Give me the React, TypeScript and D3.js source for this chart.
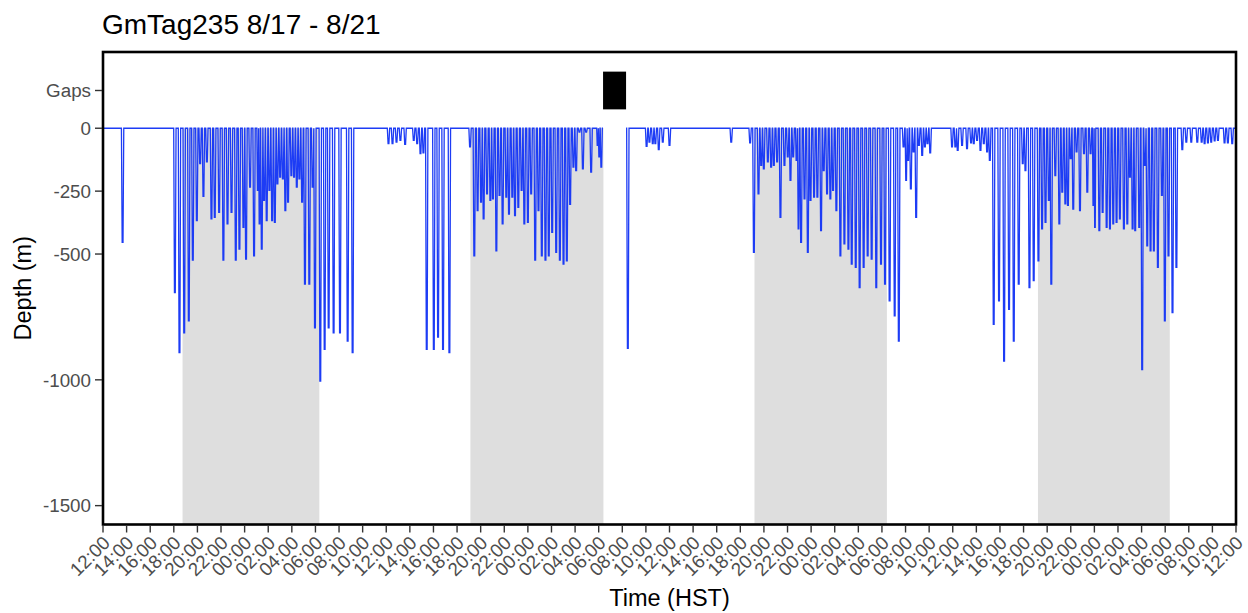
import React, { useEffect, useRef } from 'react';
import * as d3 from 'd3';

const chartTitle = 'GmTag235 8/17 - 8/21';
const xTitle = 'Time (HST)';
const yTitle = 'Depth (m)';

// 8/17 12:00 to 8/21 12:00 (HST)
const startTime = new Date(2023, 7, 17, 12, 0);
const endTime = new Date(2023, 7, 21, 12, 0);

// dive midpoints, hours after 8/17 12:00
const diveHours = [
  1.66, 6.09, 6.48, 6.88, 7.27, 7.61, 7.95, 8.23, 8.51, 8.8, 9.19, 9.47, 9.84, 10.2, 10.55, 10.89,
  11.25, 11.56, 11.9, 12.12, 12.46, 12.8, 13.11, 13.26, 13.45, 13.65, 13.87, 14.1, 14.33, 14.56,
  14.78, 15.01, 15.24, 15.45, 15.68, 15.96, 16.19, 16.42, 16.64, 16.87, 17.11, 17.48, 17.76, 17.96,
  18.41, 18.78, 19.12, 19.54, 20.08, 20.73, 21.15,
  24.19, 24.53, 24.87, 25.2, 25.6, 26.33, 26.62, 26.9, 27.15, 27.43, 28.03, 28.39, 28.81, 29.35,
  31.1, 31.46, 31.74, 32.03, 32.25, 32.54, 32.82, 33.04, 33.33, 33.6, 33.86, 34.17, 34.4, 34.68,
  34.91, 35.19, 35.47, 35.7, 36.0, 36.28, 36.62, 36.9, 37.18, 37.49, 37.77, 38.06, 38.4, 38.71,
  39.02, 39.3, 39.58, 39.86, 40.09, 40.37, 40.66, 40.94, 41.36, 41.9, 42.04, 42.22,
  44.47, 46.06, 46.3, 46.58, 46.8, 47.09, 47.43, 48.0, 53.23, 54.83,
  55.15, 55.54, 55.77, 55.99, 56.33, 56.61, 56.84, 57.12, 57.4, 57.74, 58.02, 58.25, 58.48, 58.76,
  58.93, 59.15, 59.44, 59.72, 59.95, 60.25, 60.53, 60.84, 61.07, 61.35, 61.63, 61.86, 62.14, 62.48,
  62.82, 63.16, 63.44, 63.78, 64.11, 64.45, 64.79, 65.13, 65.52, 65.92, 66.26, 66.65, 67.08, 67.43,
  67.83, 68.05, 68.22, 68.45, 68.68, 68.9, 69.13, 69.41, 69.64, 69.86, 70.09,
  71.94, 72.22, 72.42, 72.79, 73.21, 73.55, 73.78, 74.06, 74.35, 74.63, 74.91, 75.14, 75.47, 75.92,
  76.35, 76.77, 77.17, 77.59, 77.93, 78.16, 78.5, 78.86, 79.26, 79.57, 79.86, 80.14, 80.35, 80.69,
  81.03, 81.28, 81.54, 81.76, 81.99, 82.21, 82.49, 82.78, 83.12, 83.4, 83.68, 83.91, 84.05, 84.42,
  84.7, 85.04, 85.32, 85.6, 85.88, 86.16, 86.5, 86.79, 87.01, 87.24, 87.46, 87.8, 88.05, 88.28,
  88.48, 88.76, 89.04, 89.38, 89.72, 89.97, 90.28, 90.62, 90.95,
  91.45, 91.79, 92.21, 92.72, 93.09, 93.34, 93.62, 93.9, 94.19, 94.47, 95.03, 95.31, 95.68,
];

// max depth of each dive (m)
const diveDepths = [
  -454, -653, -892, -813, -766, -524, -367, -141, -271, -134, -360, -354, -334, -524, -380, -334,
  -524, -480, -394, -520, -234, -507, -247, -380, -480, -287, -367, -247, -367, -374,
  -221, -194, -201, -327, -294, -188, -194, -234, -201, -294, -620, -620, -234, -793,
  -1005, -879, -793, -813, -813, -846, -892,
  -61, -61, -55, -48, -64, -48, -61, -101, -98, -879, -879, -830, -879, -892,
  -74, -507, -327, -294, -360, -261, -287, -281, -487, -267, -380, -274, -341, -274,
  -347, -314, -247, -380, -374, -261, -524, -327, -507, -524, -507, -414, -493, -524,
  -540, -527, -303, -154, -168, -15, -161, -15, -174, -68, -114, -154,
  -875, -72, -55, -61, -61, -85, -55, -68, -55, -58,
  -493, -261, -148, -161, -134, -154, -148, -134, -354, -148, -114, -207, -114, -128,
  -400, -454, -281, -493, -287, -274, -274, -407, -168, -261, -281, -247, -327, -507,
  -460, -480, -540, -553, -633, -553, -507, -520, -633, -540, -620, -686, -746, -846,
  -74, -207, -128, -241, -94, -354, -68, -108, -74, -61, -98,
  -74, -74, -88, -68, -81, -58, -61, -48, -88, -61, -94, -128, -779, -686,
  -926, -720, -846, -620, -141, -168, -633, -606, -527, -400, -374, -287, -620, -188,
  -380, -254, -301, -307, -121, -321, -94, -327, -101, -254, -101, -307, -394, -407,
  -334, -394, -400, -380, -374, -360, -400, -380, -194, -400, -407, -394, -959, -148,
  -467, -487, -487, -553, -267, -766, -507, -733, -553,
  -85, -55, -55, -55, -55, -61, -58, -55, -50, -48, -58, -58, -61,
];

// night (sunset to sunrise), hours after 8/17 12:00
const nightStart = [6.74, 31.13, 55.2, 79.22];
const nightEnd = [18.33, 42.4, 66.42, 90.39];

// missing data
const gapStart = [42.37];
const gapEnd = [44.32];

const yTickValues = [150, 0, -250, -500, -1000, -1500];
const yTickLabels = ['Gaps', '0', '-250', '-500', '-1000', '-1500'];

const FONT = '"Liberation Sans", Arial, Helvetica, sans-serif';

const DiveChart = () => {
  const ref = useRef<SVGSVGElement>(null);

  useEffect(() => {
    draw();
  });

  const draw = () => {
    const svg = d3.select(ref.current);
    svg.selectAll('*').remove();

    const left = 103;
    const right = 1236;
    const top = 52;
    const bottom = 524.5;

    const toDate = (h: number) => new Date(startTime.getTime() + h * 3600 * 1000);

    const x = d3.scaleTime().domain([startTime, endTime]).range([left, right]);
    const y = d3.scaleLinear().domain([-1575, 303]).range([bottom, top]);

    // night shading
    svg
      .selectAll('.night')
      .data(nightStart)
      .enter()
      .append('rect')
      .attr('x', (d) => x(toDate(d)))
      .attr('width', (d, i) => x(toDate(nightEnd[i])) - x(toDate(d)))
      .attr('y', y(0))
      .attr('height', y(-1575) - y(0))
      .attr('fill', '#dedede');

    // depth trace, built from the dive list
    const pts: [number, number][] = [[0, 0]];
    let prev = 0;
    diveHours.forEach((h, i) => {
      gapStart.forEach((g, k) => {
        if (prev < g && h > gapEnd[k]) {
          pts.push([g, 0], [NaN, NaN], [gapEnd[k], 0]);
        }
      });
      const before = i > 0 ? h - diveHours[i - 1] : 1;
      const after = i < diveHours.length - 1 ? diveHours[i + 1] - h : 1;
      const hw = Math.min(0.1, before / 2, after / 2);
      const dd = diveDepths[i];
      pts.push([h - hw, 0], [h - hw * 0.35, dd], [h + hw * 0.35, dd], [h + hw, 0]);
      prev = h;
    });
    pts.push([96, 0]);

    const line = d3
      .line<[number, number]>()
      .defined((d) => !isNaN(d[1]))
      .x((d) => x(toDate(d[0])))
      .y((d) => y(d[1]));

    svg
      .append('path')
      .datum(pts)
      .attr('d', line)
      .attr('fill', 'none')
      .attr('stroke', '#1d3cf5')
      .attr('stroke-width', 1.3)
      .attr('stroke-linejoin', 'miter');

    // gap markers
    svg
      .selectAll('.gap')
      .data(gapStart)
      .enter()
      .append('rect')
      .attr('x', (d) => x(toDate(d)))
      .attr('width', (d, i) => x(toDate(gapEnd[i])) - x(toDate(d)))
      .attr('y', y(225))
      .attr('height', y(75) - y(225))
      .attr('fill', '#000');

    // panel border
    svg
      .append('rect')
      .attr('x', left)
      .attr('y', top)
      .attr('width', right - left)
      .attr('height', bottom - top)
      .attr('fill', 'none')
      .attr('stroke', '#000')
      .attr('stroke-width', 2.6);

    // y axis
    const yAxis = svg.append('g');
    yTickValues.forEach((v, i) => {
      yAxis
        .append('line')
        .attr('x1', left - 8)
        .attr('x2', left - 1)
        .attr('y1', y(v))
        .attr('y2', y(v))
        .attr('stroke', '#333')
        .attr('stroke-width', 1.4);
      yAxis
        .append('text')
        .attr('x', left - 12)
        .attr('y', y(v))
        .attr('dy', '0.36em')
        .attr('text-anchor', 'end')
        .attr('font-family', FONT)
        .attr('font-size', 18.8)
        .attr('fill', '#4d4d4d')
        .text(yTickLabels[i]);
    });

    // x axis
    const fmt = d3.timeFormat('%H:%M');
    const ticks = x.ticks(d3.timeHour.every(2) as d3.TimeInterval);
    const xAxis = svg.append('g');
    ticks.forEach((t) => {
      const px = x(t);
      xAxis
        .append('line')
        .attr('x1', px)
        .attr('x2', px)
        .attr('y1', bottom + 1)
        .attr('y2', bottom + 8)
        .attr('stroke', '#333')
        .attr('stroke-width', 1.4);
      xAxis
        .append('text')
        .attr('transform', `translate(${px - 1.5},${bottom + 10}) rotate(-45)`)
        .attr('dy', '0.72em')
        .attr('text-anchor', 'end')
        .attr('font-family', FONT)
        .attr('font-size', 18.8)
        .attr('fill', '#4d4d4d')
        .text(fmt(t));
    });

    // titles
    svg
      .append('text')
      .attr('x', left - 1)
      .attr('y', 34)
      .attr('font-family', FONT)
      .attr('font-size', 28)
      .attr('fill', '#000')
      .text(chartTitle);

    svg
      .append('text')
      .attr('x', (left + right) / 2)
      .attr('y', 606)
      .attr('text-anchor', 'middle')
      .attr('font-family', FONT)
      .attr('font-size', 23.5)
      .attr('fill', '#000')
      .text(xTitle);

    svg
      .append('text')
      .attr('transform', `translate(31,${(top + bottom) / 2}) rotate(-90)`)
      .attr('text-anchor', 'middle')
      .attr('font-family', FONT)
      .attr('font-size', 23.5)
      .attr('fill', '#000')
      .text(yTitle);
  };

  return (
    <svg
      ref={ref}
      width={1248}
      height={613}
      style={{ position: 'absolute', left: 0, top: 0, background: '#fff' }}
    />
  );
};

export default function App() {
  return <DiveChart />;
}
